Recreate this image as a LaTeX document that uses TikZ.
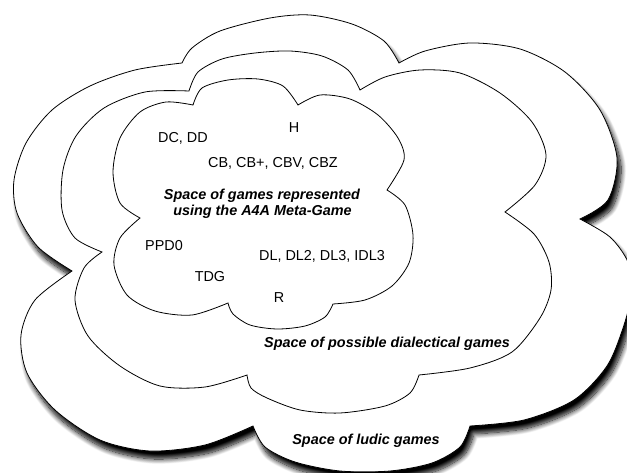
\documentclass[tikz,border=0pt]{standalone}
\usepackage{fontspec}
\setmainfont{Liberation Sans}
\usetikzlibrary{shadows.blur}
\begin{document}
\begin{tikzpicture}[x=1pt,y=-1pt,
  cloud/.style={draw=black,line width=0.8pt,fill=white,line join=miter},
  shadowcloud/.style={cloud,blur shadow={shadow xshift=4pt,shadow yshift=-8pt,shadow blur radius=5pt,shadow blur steps=12,shadow opacity=100}},
  bump/.style={smooth,tension=0.5},
  lbl/.style={font=\fontsize{14.4}{16}\selectfont,inner sep=0pt,anchor=base},
  caption/.style={lbl,font=\fontsize{14.4}{16}\selectfont\bfseries\itshape}]
\useasboundingbox (0,0) rectangle (627,473);

% outer cloud: space of ludic games
\path[shadowcloud] (182,63)
  -- plot[bump] coordinates {(182,63) (192,48) (220,31) (270,18) (310,15) (352,24) (384,41) (399,63)}
  -- plot[bump] coordinates {(399,63) (425,51) (470,43) (520,49) (565,72) (600,110) (617,158) (608,200) (580,219)}
  -- plot[bump] coordinates {(580,219) (610,237) (628,262) (632,290) (624,325) (607,366) (574,400) (524,420) (470,426)}
  -- plot[bump] coordinates {(470,426) (460,447) (432,463) (390,471) (340,471) (295,462) (265,447) (253,426)}
  -- plot[bump] coordinates {(253,426) (205,445) (150,451) (100,440) (55,410) (27,373) (21,335) (35,300) (72,271)}
  -- plot[bump] coordinates {(72,271) (38,247) (17,213) (14,180) (26,143) (52,110) (90,86) (135,70) (182,63)}
  -- cycle;

% middle cloud: space of possible dialectical games
\path[cloud] (189,91)
  -- plot[bump] coordinates {(189,91) (198,72) (222,59) (255,53) (290,51) (322,56) (348,70) (360,90)}
  -- plot[bump] coordinates {(360,90) (385,77) (420,70) (460,73) (500,93) (532,122) (546,155) (535,185) (505,212)}
  -- plot[bump] coordinates {(505,212) (534,234) (549,262) (551,290) (540,318) (512,352) (470,368) (419,375)}
  -- plot[bump] coordinates {(419,375) (410,393) (385,406) (340,413) (300,410) (267,398) (251,388) (247,375)}
  -- plot[bump] coordinates {(247,375) (205,387) (160,386) (120,366) (88,336) (75,300) (84,268) (102,252)}
  -- plot[bump] coordinates {(102,252) (75,238) (62,210) (63,170) (76,136) (104,108) (145,92) (189,91)}
  -- cycle;

% inner cloud: games represented with the A4A meta-game
\path[cloud] (193,105)
  -- plot[bump] coordinates {(193,105) (202,88) (228,80) (258,79) (283,86) (298,105)}
  -- plot[bump] coordinates {(298,105) (320,95) (350,99) (378,115) (398,138) (404,160) (387,190)}
  -- plot[bump] coordinates {(387,190) (405,205) (413,235) (409,263) (392,286) (365,300) (333,304)}
  -- plot[bump] coordinates {(333,304) (325,317) (305,326) (277,329) (250,325) (233,314) (228,303)}
  -- plot[bump] coordinates {(228,303) (192,315) (155,311) (127,295) (114,265) (120,238) (140,218)}
  -- plot[bump] coordinates {(140,218) (120,203) (113,172) (120,138) (140,112) (166,102) (193,105)}
  -- cycle;

% game labels
\node[lbl] (h)    at (294,133) {H};
\node[lbl] (dcdd) at (183,143) {DC, DD};
\node[lbl] (cb)   at (273,168) {CB, CB+, CBV, CBZ};
\node[lbl] (ppd)  at (164,251) {PPD0};
\node[lbl] (dl)   at (322,261) {DL, DL2, DL3, IDL3};
\node[lbl] (tdg)  at (210,282) {TDG};
\node[lbl] (r)    at (279,302) {R};

% region captions
\node[caption] (metaA) at (262,200) {Space of games represented};
\node[caption] (metaB) at (262.5,216) {using the A4A Meta-Game};
\node[caption] (dial)  at (387,348) {Space of possible dialectical games};
\node[caption] (ludic) at (366,444) {Space of ludic games};
\end{tikzpicture}
\end{document}
